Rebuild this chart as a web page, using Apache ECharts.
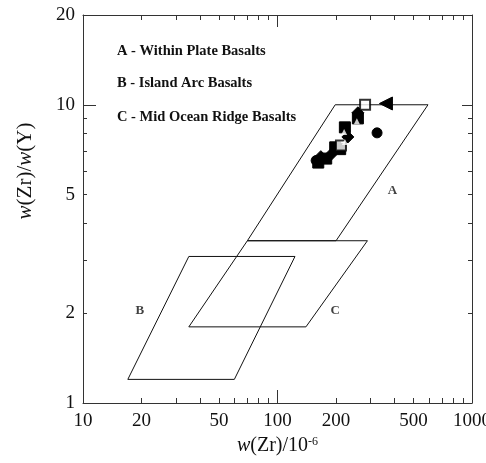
<!DOCTYPE html>
<html>
<head>
<meta charset="utf-8">
<script src="https://cdn.jsdelivr.net/npm/echarts@6/dist/echarts.min.js"></script>
<style>
  html, body { margin: 0; padding: 0; background: #fff; }
  #chart { width: 486px; height: 463px; }
</style>
</head>
<body>
<div id="chart"></div>
<script>
// Zr - Zr/Y discrimination diagram, both axes logarithmic

const xLabels = [10, 20, 50, 100, 200, 500, 1000];
const xMinor = [20, 30, 40, 50, 60, 70, 80, 90, 200, 300, 400, 500, 600, 700, 800, 900];
const xMajor = [100];
const yLabels = [1, 2, 5, 10, 20];
const yMinor = [2, 3, 4, 5, 6, 7, 8, 9];
const yMajor = [10];

// field outlines, [Zr, Zr/Y]
const fieldA = [[198, 10], [594, 10], [200, 3.5], [70, 3.5], [198, 10]];
const fieldB = [[35, 3.1], [123, 3.1], [60, 1.2], [17, 1.2], [35, 3.1]];
const fieldC = [[70, 3.5], [290, 3.5], [140, 1.8], [35, 1.8], [70, 3.5]];
const fieldNames = ['A', 'B', 'C'];
const fieldLabelAt = [[390, 5.15], [19.6, 2.04], [198, 2.04]];

const legendLines = ['A - Within Plate Basalts', 'B - Island Arc Basalts', 'C - Mid Ocean Ridge Basalts'];

// samples
const filledSquare = [[162, 6.4], [178, 6.6], [198, 7.2], [210, 7.1], [222, 8.4], [259, 9.0]];
const filledDiamond = [[167, 6.7], [188, 6.8], [230, 7.8], [259, 9.4]];
const filledCircle = [[158, 6.5], [325, 8.05]];
const filledTriLeft = [[361, 10.1]];
const openSquare = [[282, 10.0], [212, 7.3]];
const openTriangle = [[256, 8.8], [222, 7.5], [220, 8.1]];

const lg = v => Math.log10(v);
const toLog = arr => arr.map(p => [lg(p[0]), lg(p[1])]);

const serif = '"Liberation Serif", "DejaVu Serif", serif';
const frame = { show: true, onZero: false, lineStyle: { color: '#333', width: 1 } };
const noLine = { show: false, onZero: false };
const X_MIN = 1, X_MAX = 3, Y_MIN = 0, Y_MAX = lg(20);

function xAxis(position, opts) {
  return Object.assign({
    type: 'value', position, min: X_MIN, max: X_MAX,
    splitLine: { show: false },
    axisLabel: { show: false }
  }, opts);
}
function yAxis(position, opts) {
  return Object.assign({
    type: 'value', position, min: Y_MIN, max: Y_MAX,
    splitLine: { show: false },
    axisLabel: { show: false }
  }, opts);
}

const chart = echarts.init(document.getElementById('chart'));

const fieldSeries = [fieldA, fieldB, fieldC].map((f, i) => ({
  name: 'field' + fieldNames[i],
  type: 'line',
  data: toLog(f),
  symbol: 'none',
  silent: true,
  lineStyle: { color: '#111', width: 1 },
  z: 2
}));

function scatter(name, data, symbol, size, extra) {
  return Object.assign({
    name, type: 'scatter', data: toLog(data), symbol, symbolSize: size,
    itemStyle: { color: '#000', borderColor: '#000', borderWidth: 1, opacity: 1 },
    z: 5
  }, extra);
}

chart.setOption({
  animation: false,
  grid: { left: 83, top: 15, right: 14, bottom: 60, outerBoundsMode: 'none' },
  graphic: legendLines.map((t, i) => ({
    type: 'text',
    left: 117,
    top: [44, 76, 110][i],
    style: { text: t, font: 'bold 14.5px ' + serif, fill: '#111' }
  })),
  xAxis: [
    xAxis('bottom', {
      axisLine: frame,
      axisTick: { inside: true, length: 5, customValues: xMinor.map(lg), lineStyle: { color: '#333' } },
      axisLabel: {
        show: true, customValues: xLabels.map(lg), margin: 9,
        formatter: v => String(Math.round(Math.pow(10, v))),
        fontFamily: serif, fontSize: 19, color: '#111'
      },
      name: '{i|w}(Zr)/10{sup|-6}',
      nameLocation: 'middle',
      nameGap: 33,
      nameTextStyle: {
        fontFamily: serif, fontSize: 20, color: '#111',
        rich: {
          i: { fontFamily: serif, fontSize: 20, fontStyle: 'italic', color: '#111' },
          sup: { fontFamily: serif, fontSize: 12, verticalAlign: 'top', color: '#111', padding: [0, 0, 8, 0] }
        }
      }
    }),
    xAxis('bottom', {
      axisLine: noLine,
      axisTick: { inside: true, length: 13, customValues: xMajor.map(lg), lineStyle: { color: '#333' } }
    }),
    xAxis('top', {
      axisLine: frame,
      axisTick: { inside: true, length: 5, customValues: xMinor.map(lg), lineStyle: { color: '#333' } }
    }),
    xAxis('top', {
      axisLine: noLine,
      axisTick: { inside: true, length: 12, customValues: xMajor.map(lg), lineStyle: { color: '#333' } }
    })
  ],
  yAxis: [
    yAxis('left', {
      axisLine: frame,
      axisTick: { inside: true, length: 4, customValues: yMinor.map(lg), lineStyle: { color: '#333' } },
      axisLabel: {
        show: true, customValues: yLabels.map(lg), margin: 8,
        formatter: v => String(Math.round(Math.pow(10, v))),
        fontFamily: serif, fontSize: 19, color: '#111'
      },
      name: '{i|w}(Zr)/{i|w}(Y)',
      nameLocation: 'middle',
      nameGap: 47,
      nameTextStyle: {
        fontFamily: serif, fontSize: 21, color: '#111',
        padding: [0, 0, 0, 76],
        rich: {
          i: { fontFamily: serif, fontSize: 21, fontStyle: 'italic', color: '#111' }
        }
      }
    }),
    yAxis('left', {
      axisLine: noLine,
      axisTick: { inside: true, length: 13, customValues: yMajor.map(lg), lineStyle: { color: '#333' } }
    }),
    yAxis('right', {
      axisLine: frame,
      axisTick: { inside: true, length: 4, customValues: yMinor.map(lg), lineStyle: { color: '#333' } }
    }),
    yAxis('right', {
      axisLine: noLine,
      axisTick: { inside: true, length: 10, customValues: yMajor.map(lg), lineStyle: { color: '#333' } }
    })
  ],
  series: [
    ...fieldSeries,
    {
      name: 'fieldLabels',
      type: 'scatter',
      data: fieldLabelAt.map((p, i) => ({ name: fieldNames[i], value: [lg(p[0]), lg(p[1])] })),
      symbolSize: 0,
      silent: true,
      label: {
        show: true, position: 'inside', formatter: '{b}',
        fontFamily: serif, fontWeight: 'bold', fontSize: 13, color: '#111'
      }
    },
    scatter('filled square', filledSquare, 'rect', 11),
    scatter('filled diamond', filledDiamond, 'diamond', 12),
    scatter('filled circle', filledCircle, 'circle', 10),
    scatter('filled triangle', filledTriLeft, 'triangle', 13, { symbolRotate: 90 }),
    scatter('open square', openSquare, 'emptyRect', 10, { itemStyle: { color: '#000', borderColor: '#000', borderWidth: 1 }, z: 6 }),
    scatter('open triangle', openTriangle, 'triangle', 6, { itemStyle: { color: '#fff', borderColor: '#fff', borderWidth: 0 }, z: 7 })
  ]
});
</script>
</body>
</html>
